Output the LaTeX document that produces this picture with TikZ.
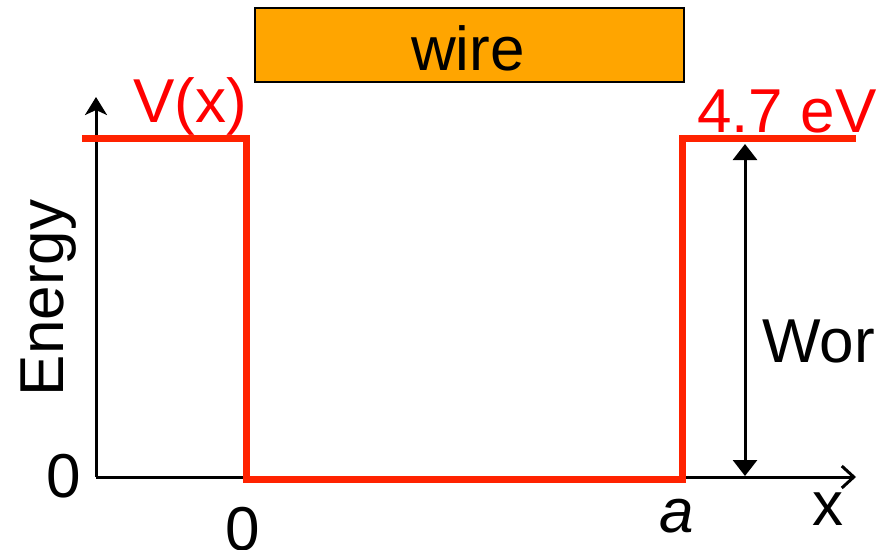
\documentclass[tikz,border=0pt]{standalone}
\usepackage{fontspec}
\setmainfont{Liberation Sans}
\usetikzlibrary{arrows.meta}
\definecolor{lred}{RGB}{255,34,0}
\definecolor{tred}{RGB}{255,0,0}
\definecolor{worange}{RGB}{255,165,0}
\begin{document}
\begin{tikzpicture}[x=1pt,y=-1pt,
  lbl/.style={inner sep=0pt,font=\fontsize{62}{70}\selectfont},
  axis/.style={line width=3pt,black},
  pot/.style={line width=7pt,lred},
  ]
\useasboundingbox (0,0) rectangle (878,549);
% wire box
\node[draw=black,line width=1.5pt,fill=worange,minimum width=429pt,minimum height=74pt,inner sep=0pt,anchor=north west,
  font=\fontsize{62}{70}\selectfont] (wire) at (254,7) {};
\node[lbl,anchor=base] (wiret) at (468,70) {wire};
% axes
\coordinate (O) at (96,477);
\coordinate (ytop) at (96,97);
\coordinate (xend) at (856,477);
\draw[axis,-{Stealth[length=18pt,width=22pt,inset=5pt]}] (O) -- (ytop);
\draw[axis,-{Straight Barb[length=12pt,width=22pt,line width=3pt]}] (O) -- (xend);
% potential
\coordinate (p1) at (82,138);
\coordinate (p2) at (246,138);
\coordinate (p3) at (246,479);
\coordinate (p4) at (682,479);
\coordinate (p5) at (682,138);
\coordinate (p6) at (856,138);
\draw[pot,line join=miter] (p1) -- (p2) -- (p3) -- (p4) -- (p5) -- (p6);
% work function arrow
\coordinate (wtop) at (745,144);
\coordinate (wbot) at (745,476);
\draw[line width=3pt,{Triangle[length=16pt,width=24pt]}-{Triangle[length=16pt,width=24pt]}] (wtop) -- (wbot);
% labels
\node[lbl,text=tred,anchor=base] (V) at (190,122) {V(x)};
\node[lbl,text=tred,anchor=base west] (ev) at (697,132) {4.7 eV};
\node[lbl,anchor=base west] (wor) at (762,362) {Wor};
\node[lbl,anchor=base,rotate=90] (en) at (63,298) {Energy};
\node[lbl,anchor=base] (z1) at (64,497) {0};
\node[lbl,anchor=base] (z2) at (243,550) {0};
\node[lbl,anchor=base] (a) at (677,532) {\itshape a};
\node[lbl,anchor=base] (xl) at (828,525) {x};
\end{tikzpicture}
\end{document}
